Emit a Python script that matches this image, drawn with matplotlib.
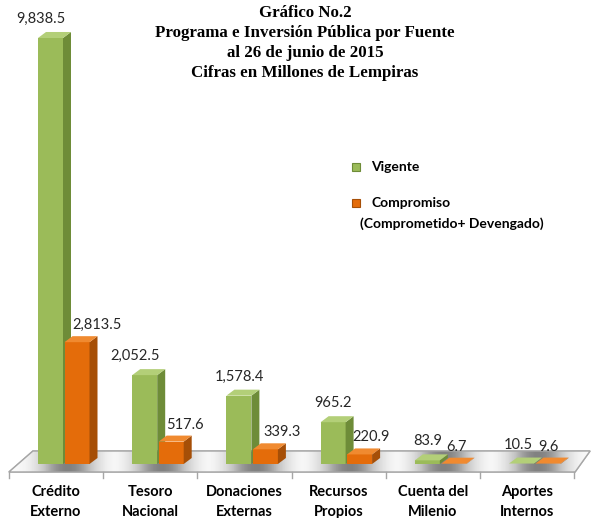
import numpy as np
import matplotlib.pyplot as plt
from matplotlib.patches import Polygon

# ─── Datos (millones de lempiras) ─────────────────────────────────────
categorias = ['Crédito\nExterno', 'Tesoro\nNacional', 'Donaciones\nExternas',
              'Recursos\nPropios', 'Cuenta del\nMilenio', 'Aportes\nInternos']
vigente = [9838.5, 2052.5, 1578.4, 965.2, 83.9, 10.5]
compromiso = [2813.5, 517.6, 339.3, 220.9, 6.7, 9.6]

titulo = ['Gráfico No.2', 'Programa e Inversión Pública por Fuente',
          'al 26 de junio de 2015', 'Cifras en Millones de Lempiras']

# ─── Geometría (pixeles de la figura 594x518) ─────────────────────────
W, H = 594, 518
PX = 94.2          # pixeles por categoría
PY = 0.0433        # pixeles por unidad de valor
X0, Y0 = 56, 464   # centro de la primera categoría / base de las barras
dx, dy = 8 / PX, 6 / PY     # profundidad 3D
ancho = 25 / PX

verde = dict(front='#9BBB59', top='#B3CF78', side='#6E8C38')
naranja = dict(front='#E46C0A', top='#F08A30', side='#A64F07')

fig = plt.figure(figsize=(W / 100, H / 100), dpi=100)
ax = fig.add_axes([0, 0, 1, 1])
ax.set_xlim(-X0 / PX, (W - X0) / PX)
ax.set_ylim(-(H - Y0) / PY, Y0 / PY)
ax.axis('off')

x = np.arange(len(categorias))

# ─── Piso ─────────────────────────────────────────────────────────────
yf, yb = -8 / PY, 13 / PY
piso = [(-0.5, yf), (5.5 + 1 / PX, yf), (5.5 + 16 / PX, yb), (-0.5 + 24 / PX, yb)]
gx = np.linspace(-0.6, 5.8, 700)
shade = np.zeros_like(gx)
for c in x:
    shade = np.maximum(shade, np.exp(-((gx - c - 0.12) / 0.34) ** 2))
img = np.tile(shade, (20, 1))
poly = Polygon(piso, closed=True, facecolor='white', edgecolor='#B0B0B0', lw=1.0, zorder=1)
ax.add_patch(poly)
im = ax.imshow(img, extent=(-0.6, 5.8, yf, yb), cmap='Greys', vmin=0, vmax=1.6,
               aspect='auto', origin='lower', zorder=1.5, alpha=0.9)
im.set_clip_path(poly)
ax.add_patch(Polygon(piso, closed=True, fill=False, edgecolor='#A6A6A6', lw=1.0, zorder=2))
for t in np.arange(-0.5, 6.0, 1.0):
    ax.plot([t, t], [yf, yf - 6 / PY], color='#A6A6A6', lw=1.0, zorder=2)


# ─── Barras 3D ───────────────────────────────────────────────────────
def barra3d(xc, v, col, z):
    ax.bar(xc, v, width=ancho, color=col['front'], zorder=z)
    l, r = xc - ancho / 2, xc + ancho / 2
    ax.add_patch(Polygon([(r, 0), (r + dx, dy), (r + dx, v + dy), (r, v)],
                         facecolor=col['side'], edgecolor='none', zorder=z))
    ax.add_patch(Polygon([(l, v), (r, v), (r + dx, v + dy), (l + dx, v + dy)],
                         facecolor=col['top'], edgecolor='none', zorder=z))


off_v, off_c = -5.5 / PX, 21 / PX
for i in x:
    barra3d(i + off_v, vigente[i], verde, 3)
    barra3d(i + off_c, compromiso[i], naranja, 4)

# ─── Etiquetas de valores ─────────────────────────────────────────────
nudge_v = [-10, -10, 1, 0, 0, -3]
nudge_c = [20, 14, 17, 11, 3, 0]
for i in x:
    ax.annotate(f'{vigente[i]:,.1f}', (i + off_v, vigente[i]), xytext=(nudge_v[i], 19),
                textcoords='offset pixels', ha='center', va='center',
                fontsize=10.5, family='Lato', color='#262626', zorder=6)
    ax.annotate(f'{compromiso[i]:,.1f}', (i + off_c, compromiso[i]), xytext=(nudge_c[i], 17),
                textcoords='offset pixels', ha='center', va='center',
                fontsize=10.5, family='Lato', color='#262626', zorder=6)

# ─── Categorías ───────────────────────────────────────────────────────
for i, cat in enumerate(categorias):
    ax.text(i, -38 / PY, cat, ha='center', va='center', fontsize=10.5, family='Lato',
            fontweight='bold', linespacing=1.55, color='black')

# ─── Título ───────────────────────────────────────────────────────────
for k, linea in enumerate(titulo):
    fig.text(305 / W, 1 - (13 + 20 * k) / H, linea, ha='center', va='center',
             fontsize=12.2, family='Liberation Serif', fontweight='bold')

# ─── Leyenda ──────────────────────────────────────────────────────────
for yy, col in [(167, verde), (203, naranja)]:
    fig.patches.append(plt.Rectangle((352 / W, 1 - (yy + 4) / H), 8 / W, 8 / H,
                                     transform=fig.transFigure, facecolor=col['front'],
                                     edgecolor=col['side'], lw=0.8))
fig.text(371 / W, 1 - 167 / H, 'Vigente', ha='left', va='center', fontsize=10,
         family='Lato', fontweight='bold')
fig.text(371 / W, 1 - 203 / H, 'Compromiso', ha='left', va='center', fontsize=10,
         family='Lato', fontweight='bold')
fig.text(360 / W, 1 - 224 / H, '(Comprometido+ Devengado)', ha='left', va='center',
         fontsize=10, family='Lato', fontweight='bold')

plt.savefig('out.png', dpi=100)
